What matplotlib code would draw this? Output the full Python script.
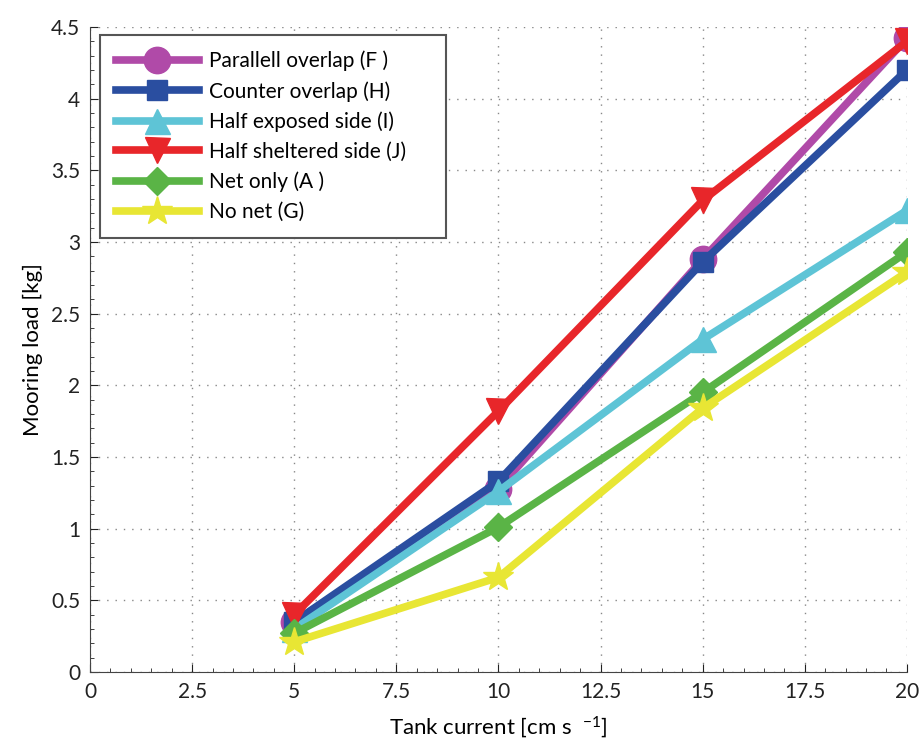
import matplotlib.pyplot as plt
from matplotlib.ticker import MultipleLocator

plt.rcParams['font.family'] = ['Lato', 'DejaVu Sans']
plt.rcParams['mathtext.default'] = 'regular'

# Data
current = [5, 10, 15, 20]
parallel_F = [0.35, 1.28, 2.88, 4.42]
counter_H = [0.35, 1.33, 2.86, 4.20]
half_exposed_I = [0.30, 1.26, 2.32, 3.22]
half_sheltered_J = [0.40, 1.82, 3.29, 4.40]
net_only_A = [0.27, 1.01, 1.95, 2.93]
no_net_G = [0.21, 0.66, 1.84, 2.79]

xticks = [0, 2.5, 5, 7.5, 10, 12.5, 15, 17.5, 20]
xtick_labels = ["0", "2.5", "5", "7.5", "10", "12.5", "15", "17.5", "20"]

series = [
    (parallel_F, "Parallell overlap (F )", "#b04aa8", "o", 19),
    (counter_H, "Counter overlap (H)", "#2a4ea0", "s", 15),
    (half_exposed_I, "Half exposed side (I)", "#5ec4d6", "^", 18),
    (half_sheltered_J, "Half sheltered side (J)", "#e8262a", "v", 18),
    (net_only_A, "Net only (A )", "#5ab446", "D", 14),
    (no_net_G, "No net (G)", "#e8e634", "*", 22),
]

fig = plt.figure(figsize=(9.21, 7.44), dpi=100)
ax = fig.add_axes([0.0977, 0.0968, 0.887, 0.867])

for vals, label, color, marker, ms in series:
    ax.plot(current, vals, color=color, lw=5.5, marker=marker, markersize=ms,
            markeredgecolor=color, label=label)

ax.set_xlim(0, 20)
ax.set_ylim(0, 4.5)
ax.set_xticks(xticks)
ax.set_xticklabels(xtick_labels)
ax.xaxis.set_minor_locator(MultipleLocator(0.5))
ax.yaxis.set_major_locator(MultipleLocator(0.5))
ax.yaxis.set_minor_locator(MultipleLocator(0.1))
ax.yaxis.set_major_formatter(plt.FuncFormatter(lambda v, p: f"{v:g}"))
ax.tick_params(which='both', direction='in', labelsize=15, colors='#222222', pad=7)
ax.tick_params(which='major', length=6)
ax.tick_params(which='minor', length=3)
ax.grid(True, which='major', linestyle=(0, (1, 5)), color='#888888', lw=1)

ax.spines['top'].set_visible(False)
ax.spines['right'].set_visible(False)
ax.spines['left'].set_color('#444444')
ax.spines['bottom'].set_color('#444444')

ax.set_xlabel("Tank current [cm s  $^{-1}$]", fontsize=16, labelpad=9)
ax.set_ylabel("Mooring load [kg]", fontsize=16, labelpad=6)

leg = ax.legend(loc='upper left', fontsize=15, handlelength=4.0, handletextpad=0.5,
                borderpad=0.75, labelspacing=0.47, fancybox=False, framealpha=1,
                edgecolor='#555555', bbox_to_anchor=(0.0122, 0.685, 0.4235, 0.3026),
                mode='expand', borderaxespad=0)
leg.get_frame().set_linewidth(1.5)

fig.savefig("out.png", dpi=100)
